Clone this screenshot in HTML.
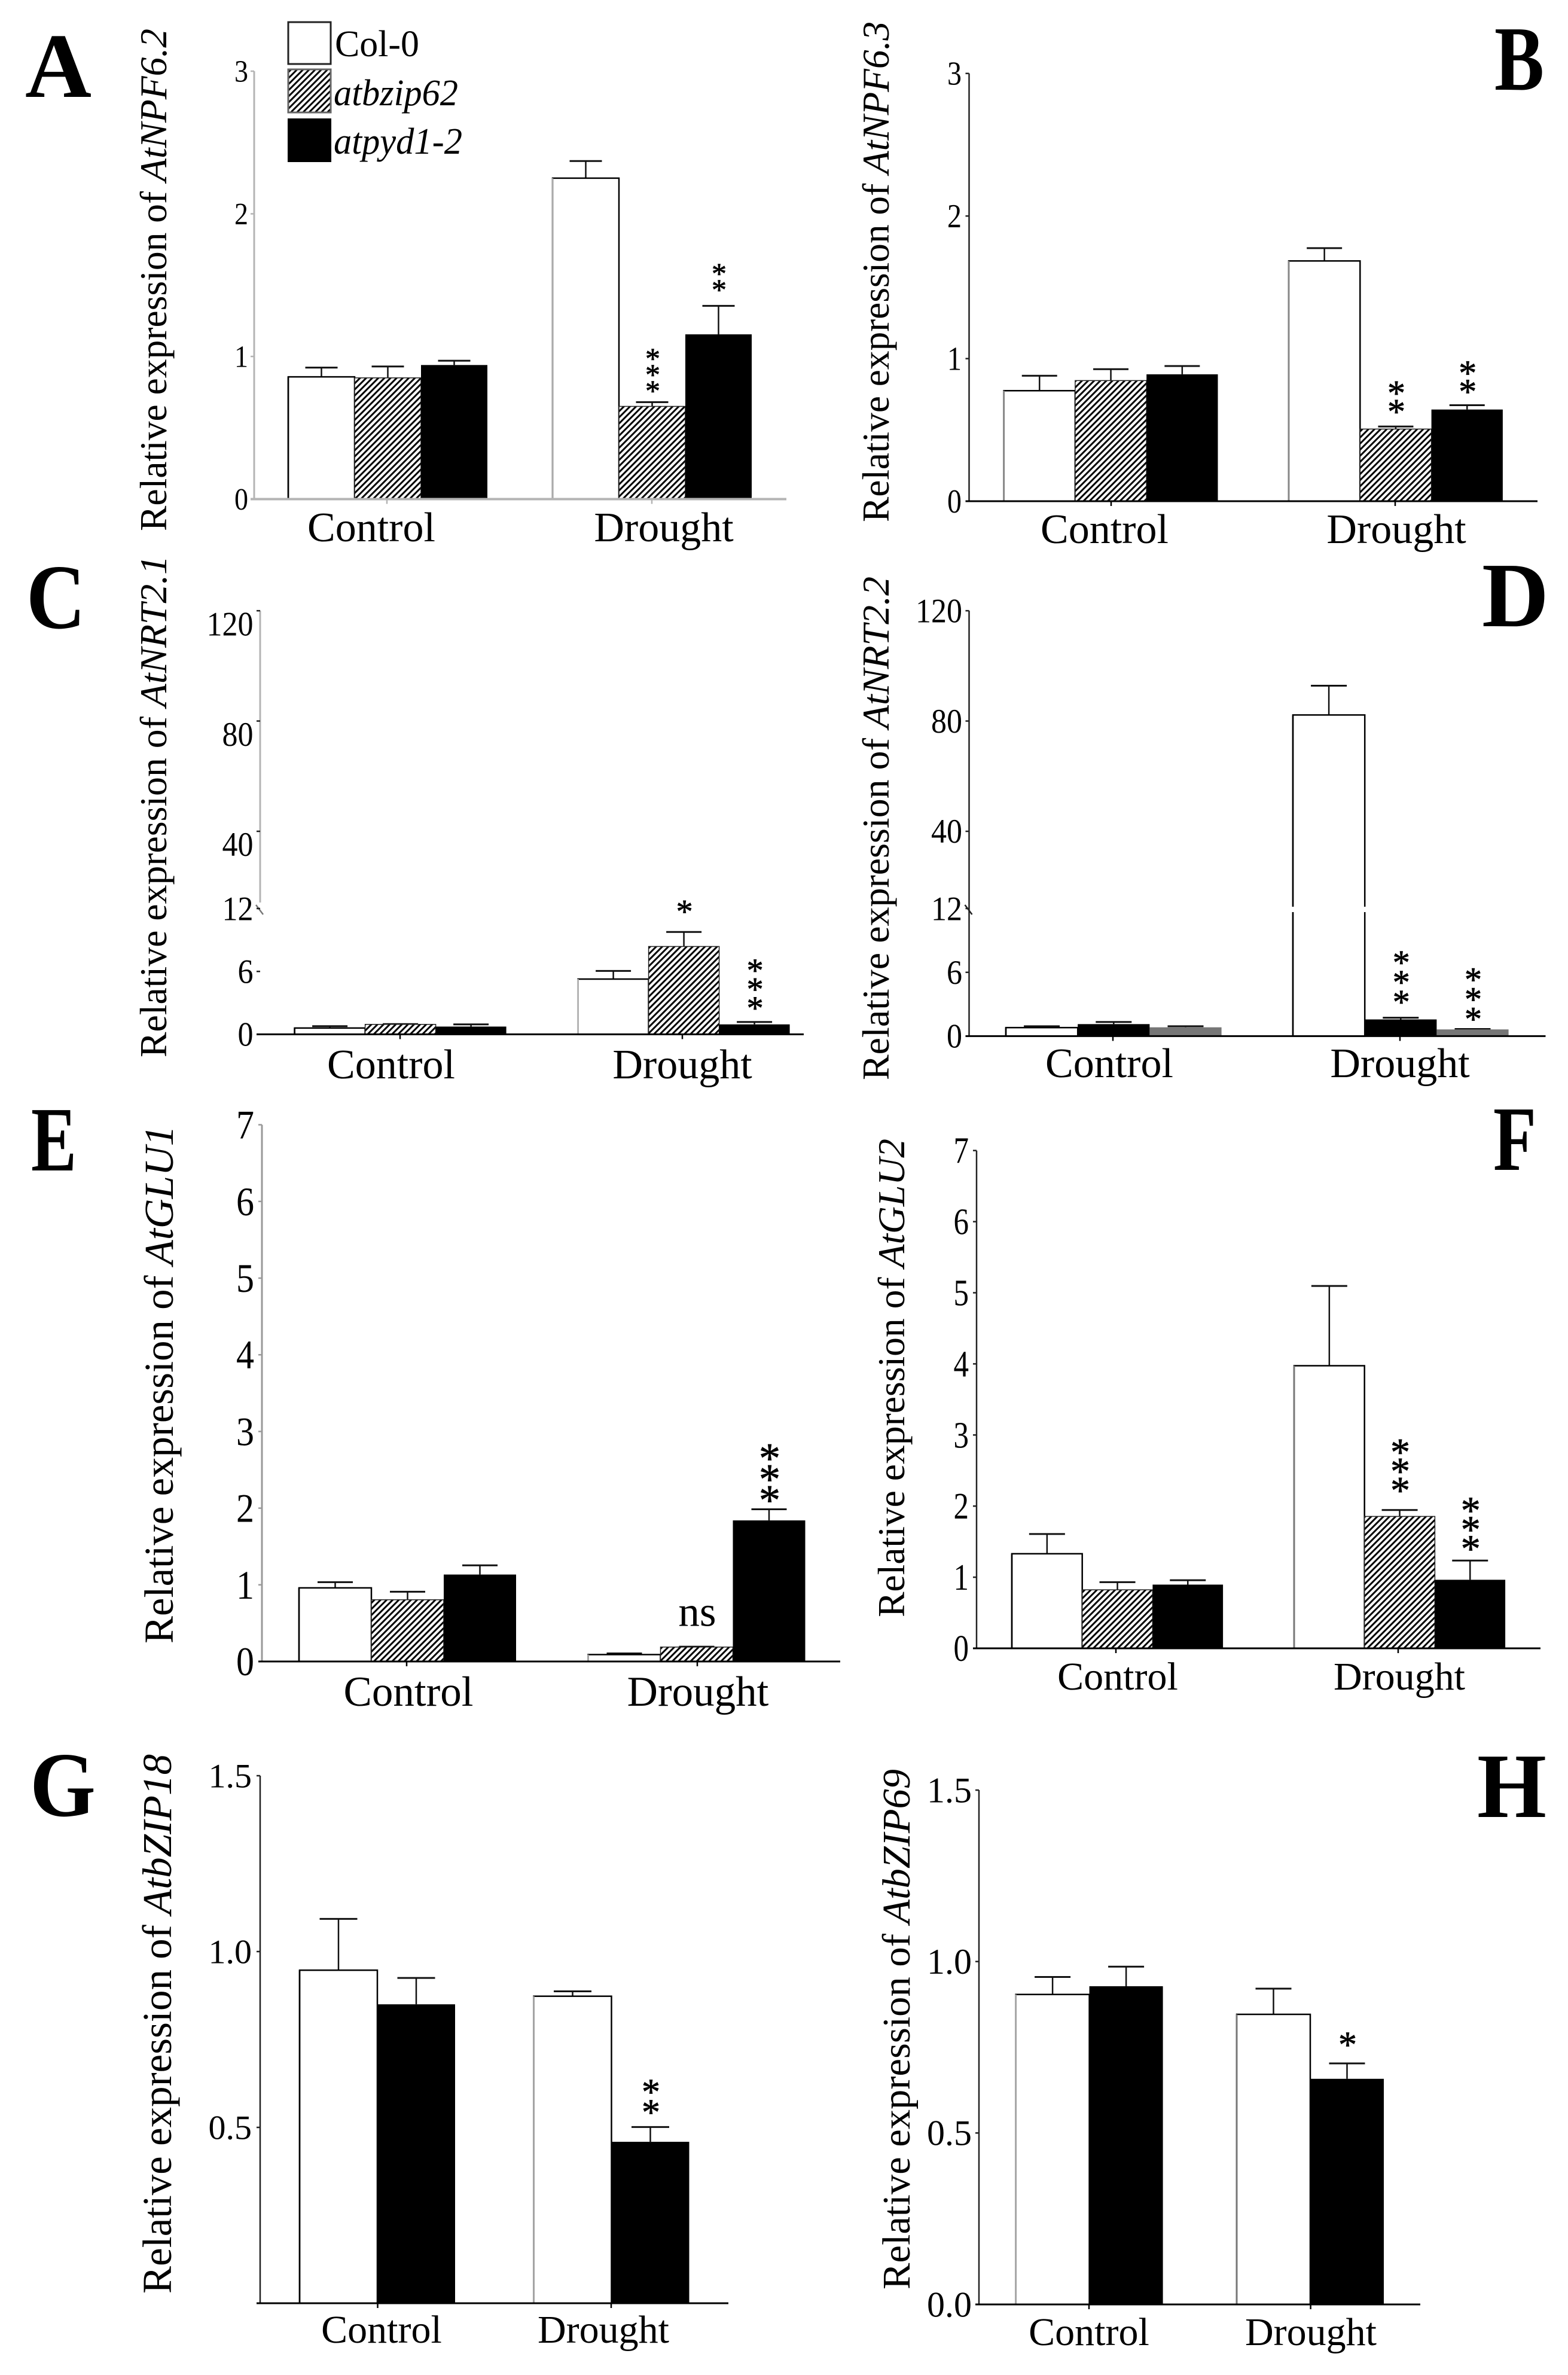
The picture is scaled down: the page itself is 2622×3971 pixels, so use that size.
<!DOCTYPE html>
<html lang="en">
<head>
<meta charset="utf-8">
<title>Relative expression panels A-H</title>
<style>
html,body{margin:0;padding:0;background:#fff;}
svg{display:block;}
text{font-family:"Liberation Serif",serif;fill:#000;}
.yl{font-size:64px;}
.pl{font-size:154px;font-weight:bold;}
.lg{font-size:62px;}
</style>
</head>
<body>
<svg id="figure" xmlns="http://www.w3.org/2000/svg" width="2622" height="3971" viewBox="0 0 2622 3971">
<defs>
<pattern id="hatch" width="7.2" height="7.2" patternUnits="userSpaceOnUse" patternTransform="rotate(45)">
<rect width="7.2" height="7.2" fill="#fff"/>
<rect x="0" y="0" width="3" height="7.2" fill="#000"/>
</pattern>
</defs>
<rect width="2622" height="3971" fill="#fff"/>

<text class="pl" x="42" y="162" textLength="111" lengthAdjust="spacingAndGlyphs">A</text>
<text class="pl" x="2499" y="150" textLength="83" lengthAdjust="spacingAndGlyphs">B</text>
<text class="pl" x="44" y="1050" textLength="99" lengthAdjust="spacingAndGlyphs">C</text>
<text class="pl" x="2478" y="1047" textLength="112" lengthAdjust="spacingAndGlyphs">D</text>
<text class="pl" x="52" y="1957" textLength="76" lengthAdjust="spacingAndGlyphs">E</text>
<text class="pl" x="2497" y="1956" textLength="72" lengthAdjust="spacingAndGlyphs">F</text>
<text class="pl" x="50" y="3036" textLength="110" lengthAdjust="spacingAndGlyphs">G</text>
<text class="pl" x="2470" y="3038" textLength="116" lengthAdjust="spacingAndGlyphs">H</text>

<g>
<rect x="482" y="37" width="71" height="70" fill="#fff" stroke="#222" stroke-width="3"/>
<text class="lg" x="560" y="94" textLength="141" lengthAdjust="spacingAndGlyphs">Col-0</text>
<rect x="482" y="116" width="71" height="72" fill="url(#hatch)" stroke="#666" stroke-width="3"/>
<text class="lg" x="558" y="176" font-style="italic" textLength="208" lengthAdjust="spacingAndGlyphs">atbzip62</text>
<rect x="481" y="198" width="73" height="73" fill="#000"/>
<text class="lg" x="558" y="257" font-style="italic" textLength="215" lengthAdjust="spacingAndGlyphs">atpyd1-2</text>
</g>

<g id="panel-a">
<text class="yl" transform="translate(278,888) rotate(-90)" textLength="840" lengthAdjust="spacingAndGlyphs">Relative expression of <tspan font-style="italic">AtNPF6.2</tspan></text>
</g>
<g id="panel-b">
<text class="yl" transform="translate(1486,873) rotate(-90)" textLength="837" lengthAdjust="spacingAndGlyphs">Relative expression of <tspan font-style="italic">AtNPF6.3</tspan></text>
</g>
<g id="panel-c">
<text class="yl" transform="translate(278,1768) rotate(-90)" textLength="839" lengthAdjust="spacingAndGlyphs">Relative expression of <tspan font-style="italic">AtNRT2.1</tspan></text>
</g>
<g id="panel-d">
<text class="yl" transform="translate(1486,1806) rotate(-90)" textLength="842" lengthAdjust="spacingAndGlyphs">Relative expression of <tspan font-style="italic">AtNRT2.2</tspan></text>
</g>
<g id="panel-e">
<text class="yl" style="font-size:69px" transform="translate(289,2748) rotate(-90)" textLength="866" lengthAdjust="spacingAndGlyphs">Relative expression of <tspan font-style="italic">AtGLU1</tspan></text>
</g>
<g id="panel-f">
<text class="yl" transform="translate(1512,2704) rotate(-90)" textLength="800" lengthAdjust="spacingAndGlyphs">Relative expression of <tspan font-style="italic">AtGLU2</tspan></text>
</g>
<g id="panel-g">
<text class="yl" style="font-size:69px" transform="translate(286,3835) rotate(-90)" textLength="902" lengthAdjust="spacingAndGlyphs">Relative expression of <tspan font-style="italic">AtbZIP18</tspan></text>
</g>
<g id="panel-h">
<text class="yl" style="font-size:66px" transform="translate(1521,3828) rotate(-90)" textLength="870" lengthAdjust="spacingAndGlyphs">Relative expression of <tspan font-style="italic">AtbZIP69</tspan></text>
</g>
</svg>

<script>
// ---- chart data ----
const categories = ['Control', 'Drought'];

const panelAValues = [[0.857, 0.85, 0.94], [2.25, 0.65, 1.155]];
const panelAErrors = [[0.065, 0.08, 0.03], [0.12, 0.03, 0.2]];
const panelAMarks = [[0, 0, 0], [0, 3, 2]];
const panelATicks = ['0', '1', '2', '3'];

const panelBValues = [[0.775, 0.846, 0.89], [1.685, 0.506, 0.643]];
const panelBErrors = [[0.105, 0.08, 0.058], [0.09, 0.018, 0.03]];
const panelBMarks = [[0, 0, 0], [0, 2, 2]];
const panelBTicks = ['0', '1', '2', '3'];

const panelCValues = [[0.6, 0.95, 0.74], [5.27, 8.38, 0.95]];
const panelCErrors = [[0.18, 0.03, 0.21], [0.78, 1.38, 0.23]];
const panelCMarks = [[0, 0, 0], [0, 1, 3]];
const panelCTicks = ['0', '6', '12', '40', '80', '120'];

const panelDValues = [[0.8, 1.13, 0.83], [82.2, 1.57, 0.63]];
const panelDErrors = [[0.13, 0.2, 0.1], [10.6, 0.16, 0.04]];
const panelDMarks = [[0, 0, 0], [0, 3, 3]];
const panelDTicks = ['0', '6', '12', '40', '80', '120'];

const panelEValues = [[0.96, 0.805, 1.134], [0.09, 0.188, 1.84]];
const panelEErrors = [[0.075, 0.105, 0.12], [0.015, 0.005, 0.145]];
const panelEMarks = [[0, 0, 0], [0, 'ns', 3]];
const panelETicks = ['0', '1', '2', '3', '4', '5', '6', '7'];

const panelFValues = [[1.33, 0.823, 0.896], [3.974, 1.855, 0.964]];
const panelFErrors = [[0.277, 0.107, 0.062], [1.122, 0.09, 0.27]];
const panelFMarks = [[0, 0, 0], [0, 3, 3]];
const panelFTicks = ['0', '1', '2', '3', '4', '5', '6', '7'];

const panelGValues = [[0.947, 0.85], [0.873, 0.459]];
const panelGErrors = [[0.146, 0.075], [0.014, 0.042]];
const panelGMarks = [[0, 0], [0, 2]];
const panelGTicks = ['0.5', '1.0', '1.5'];

const panelHValues = [[0.904, 0.928], [0.846, 0.658]];
const panelHErrors = [[0.051, 0.057], [0.075, 0.045]];
const panelHMarks = [[0, 0], [0, 1]];
const panelHTicks = ['0.0', '0.5', '1.0', '1.5'];

// ---- page layout (geometry only) ----
const WHITE = '#fff', HATCH = 'url(#hatch)', BLACK = '#000', GREY = '#767676';
const panels = [
  {id:'panel-a', values:panelAValues, errors:panelAErrors, marks:panelAMarks, ticks:panelATicks,
   axisX:425, xEnd:1315, yBase:834.5, k:238.5, fills:[WHITE,HATCH,BLACK], group0:482, group1:924, barW:111,
   capW:54, axisColor:'#b4b4b4', xAxisColor:'#b4b4b4', axisW:3, xAxisW:4, tickFont:52, digitW:23, tickRight:415,
   labelFont:70, labelY:905, labelX0:621, labelX1:1110, centerTick0:647, centerTick1:1090,
   starFont:50, starStep:27, starGap:[[0,0,0],[0,26,34]], leftEdge:['#000','#aaa']},
  {id:'panel-b', values:panelBValues, errors:panelBErrors, marks:panelBMarks, ticks:panelBTicks,
   axisX:1620.5, xEnd:2571, yBase:838, k:238.4, fills:[WHITE,HATCH,BLACK], group0:1678.6, group1:2155, barW:119.3,
   capW:59, axisColor:'#222', xAxisColor:'#000', axisW:2.5, xAxisW:3, tickFont:56, digitW:24, tickRight:1608,
   labelFont:70, labelY:908, labelX0:1847, labelX1:2335, centerTick0:1858, centerTick1:2333,
   starFont:60, starStep:31, starGap:[[0,0,0],[0,33,31]], leftEdge:['#888','#888']},
  {id:'panel-c', values:panelCValues, errors:panelCErrors, marks:panelCMarks, ticks:panelCTicks,
   axisX:435, xEnd:1344, yBase:1729.4, k:17.53, breakAt:12, k2:4.61, hideLower:true, upperLabelShift:22, fills:[WHITE,HATCH,BLACK], group0:492.6, group1:966.6, barW:118,
   capW:59, axisColor:'#b4b4b4', xAxisColor:'#000', axisW:3, xAxisW:3, tickFont:57, digitW:26, tickRight:423.5,
   labelFont:70, labelY:1803, labelX0:654, labelX1:1141, centerTick0:669, centerTick1:1141,
   starFont:56, starStep:31.5, starGap:[[0,0,0],[0,42,31]], leftEdge:['#000','#bbb']},
  {id:'panel-d', values:panelDValues, errors:panelDErrors, marks:panelDMarks, ticks:panelDTicks,
   axisX:1620.5, xEnd:2584.5, yBase:1732.4, k:17.78, breakAt:12, k2:4.61, fills:[WHITE,BLACK,GREY], group0:1682, group1:2162, barW:120.2,
   capW:60, axisColor:'#222', xAxisColor:'#000', axisW:2.5, xAxisW:3, tickFont:57, digitW:26, tickRight:1609,
   labelFont:70, labelY:1801, labelX0:1855, labelX1:2341, centerTick0:1861, centerTick1:2341,
   starFont:58, starStep:33, starGap:[[0,0,0],[0,34,24]], leftEdge:['#000','#000']},
  {id:'panel-e', values:panelEValues, errors:panelEErrors, marks:panelEMarks, ticks:panelETicks,
   axisX:438, xEnd:1405, yBase:2778, k:128.2, fills:[WHITE,HATCH,BLACK], group0:500, group1:983.5, barW:121,
   capW:59, axisColor:'#999', xAxisColor:'#000', axisW:3, xAxisW:3, tickFont:68, digitW:30, tickRight:425,
   labelFont:71, labelY:2852, labelX0:683, labelX1:1167, centerTick0:680, centerTick1:1166,
   starFont:72, starStep:35, starGap:[[0,0,0],[0,35,25]], leftEdge:['#000','#aaa']},
  {id:'panel-f', values:panelFValues, errors:panelFErrors, marks:panelFMarks, ticks:panelFTicks,
   axisX:1633, xEnd:2576, yBase:2756, k:118.9, fills:[WHITE,HATCH,BLACK], group0:1692, group1:2164, barW:117.7,
   capW:60, axisColor:'#222', xAxisColor:'#000', axisW:2.5, xAxisW:3, tickFont:62, digitW:25.5, tickRight:1620,
   labelFont:66, labelY:2825, labelX0:1869, labelX1:2340, centerTick0:1866, centerTick1:2338,
   starFont:66, starStep:32, starGap:[[0,0,0],[0,42,29]], leftEdge:['#000','#777']},
  {id:'panel-g', values:panelGValues, errors:panelGErrors, marks:panelGMarks, ticks:panelGTicks,
   axisX:435, xEnd:1218, yBase:3851, k:588, fills:[WHITE,BLACK], group0:501, group1:892.5, barW:130,
   capW:63, axisColor:'#222', xAxisColor:'#000', axisW:2.5, xAxisW:3, tickFont:57, digitW:29, tickRight:421,
   labelFont:66, labelY:3917, labelX0:638, labelX1:1009, centerTick0:631.5, centerTick1:1022,
   starFont:62, starStep:34, starGap:[[0,0],[0,33]], leftEdge:['#000','#aaa'], axisTopValue:1.5},
  {id:'panel-h', values:panelHValues, errors:panelHErrors, marks:panelHMarks, ticks:panelHTicks,
   axisX:1637, xEnd:2375, yBase:3853, k:573.3, fills:[WHITE,BLACK], group0:1698.6, group1:2068, barW:123,
   capW:60, axisColor:'#222', xAxisColor:'#000', axisW:2.5, xAxisW:3, tickFont:60, digitW:30, tickRight:1625,
   labelFont:66, labelY:3921, labelX0:1821, labelX1:2192, centerTick0:1821, centerTick1:2191.6,
   starFont:62, starStep:34, starGap:[[0,0],[0,39.5]], leftEdge:['#aaa','#777']}
];

// ---- drawing ----
const NS = 'http://www.w3.org/2000/svg';
function mk(tag, parent, props) {
  const el = document.createElementNS(NS, tag);
  for (const key in props) { el.setAttribute(key, props[key]); }
  parent.appendChild(el);
  return el;
}
function yScale(p, v) {
  if (p.breakAt === undefined || v <= p.breakAt) { return p.yBase - v * p.k; }
  return p.yBase - p.breakAt * p.k - (v - p.breakAt) * p.k2;
}
function xScale(p, g, s) {
  return (g === 0 ? p.group0 : p.group1) + s * p.barW;
}
function tickWidth(label, digitW) {
  let w = 0;
  for (const ch of label) { w += ch === '.' ? digitW * 0.5 : digitW; }
  return w;
}

panels.forEach(function (p) {
  const root = document.getElementById(p.id);
  const maxTick = Math.max.apply(null, p.ticks.map(Number));
  const topY = yScale(p, maxTick);

  // bars and error bars
  p.values.forEach(function (groupVals, g) {
    groupVals.forEach(function (val, s) {
      const x = xScale(p, g, s);
      const top = yScale(p, val);
      const fill = p.fills[s];
      const errTop = yScale(p, val + p.errors[g][s]);
      const cx = x + p.barW / 2;

      const stem = mk('line', root, {x1:cx, x2:cx, y1:top, y2:errTop, stroke:'#111', 'stroke-width':2.5});
      
      
      const cap = mk('line', root, {x1:cx - p.capW / 2, x2:cx + p.capW / 2, y1:errTop, y2:errTop, stroke:'#111', 'stroke-width':3});
      
      

      const bar = mk('rect', root, {x:x, y:top, width:p.barW, height:p.yBase - top, fill:fill});
      if (fill === WHITE) {
        bar.setAttribute('stroke', '#000');
        bar.setAttribute('stroke-width', 2.5);
      } else if (fill === HATCH) {
        bar.setAttribute('stroke', '#222');
        bar.setAttribute('stroke-width', 1.5);
      }
      
      

      if (fill === WHITE) {
        const edge = mk('line', root, {x1:x, x2:x, y1:top, y2:p.yBase, stroke:p.leftEdge[g], 'stroke-width':2.5});
        
        
      }
      if (p.breakAt !== undefined && val > p.breakAt) {
        const gapY = yScale(p, p.breakAt);
        const gap = mk('rect', root, {x:x - 3, y:gapY - 3, width:p.barW + 6, height:9, fill:'#fff'});
        
        
      }

      // significance marks
      const mark = p.marks[g][s];
      if (mark === 'ns') {
        const ns = mk('text', root, {x:cx + 1, y:errTop - p.starGap[g][s], 'text-anchor':'middle', 'font-size':71});
        ns.textContent = 'ns';
        
        
      } else {
        for (let i = 0; i < mark; i++) {
          const cy = errTop - p.starGap[g][s] - i * p.starStep;
          const star = mk('text', root, {x:cx + 1, y:cy + 0.47 * p.starFont, 'text-anchor':'middle', 'font-size':p.starFont, stroke:'#000', 'stroke-width':0.8});
          star.textContent = '*';
          
          
        }
      }
    });
  });

  // y axis
  const lowY = p.hideLower ? yScale(p, p.breakAt) - 10 : p.yBase;
  const yAxis = mk('line', root, {x1:p.axisX, x2:p.axisX, y1:topY, y2:lowY, stroke:p.axisColor, 'stroke-width':p.axisW});
  
  

  if (p.breakAt !== undefined) {
    const by = yScale(p, p.breakAt);
    const slash = mk('line', root, {x1:p.axisX - 7, x2:p.axisX + 5, y1:by - 6, y2:by + 10, stroke:p.hideLower ? '#777' : '#222', 'stroke-width':2.5});
    
    
  }

  // y ticks
  p.ticks.forEach(function (label) {
    const v = Number(label);
    const y = yScale(p, v);
    const shift = (p.upperLabelShift && v > p.breakAt) ? p.upperLabelShift : 0;
    const tick = mk('line', root, {x1:p.axisX - 6, x2:p.axisX, y1:y, y2:y, stroke:p.hideLower ? '#222' : p.axisColor, 'stroke-width':2.5});
    
    
    const txt = mk('text', root, {x:p.tickRight, y:y + shift + 0.338 * p.tickFont, 'text-anchor':'end', 'font-size':p.tickFont,
      textLength:tickWidth(label, p.digitW), lengthAdjust:'spacingAndGlyphs'});
    txt.textContent = label;
    
    
  });

  // x axis
  const xAxis = mk('line', root, {x1:p.axisX - 6, x2:p.xEnd, y1:p.yBase, y2:p.yBase, stroke:p.xAxisColor, 'stroke-width':p.xAxisW});
  
  

  // category ticks and labels
  categories.forEach(function (name, g) {
    const tx = g === 0 ? p.centerTick0 : p.centerTick1;
    const tick = mk('line', root, {x1:tx, x2:tx, y1:p.yBase, y2:p.yBase + 8, stroke:p.xAxisColor, 'stroke-width':2.5});
    
    
    const lab = mk('text', root, {x:g === 0 ? p.labelX0 : p.labelX1, y:p.labelY, 'text-anchor':'middle', 'font-size':p.labelFont});
    lab.textContent = name;
    
    
  });
});
</script>
</body>
</html>
